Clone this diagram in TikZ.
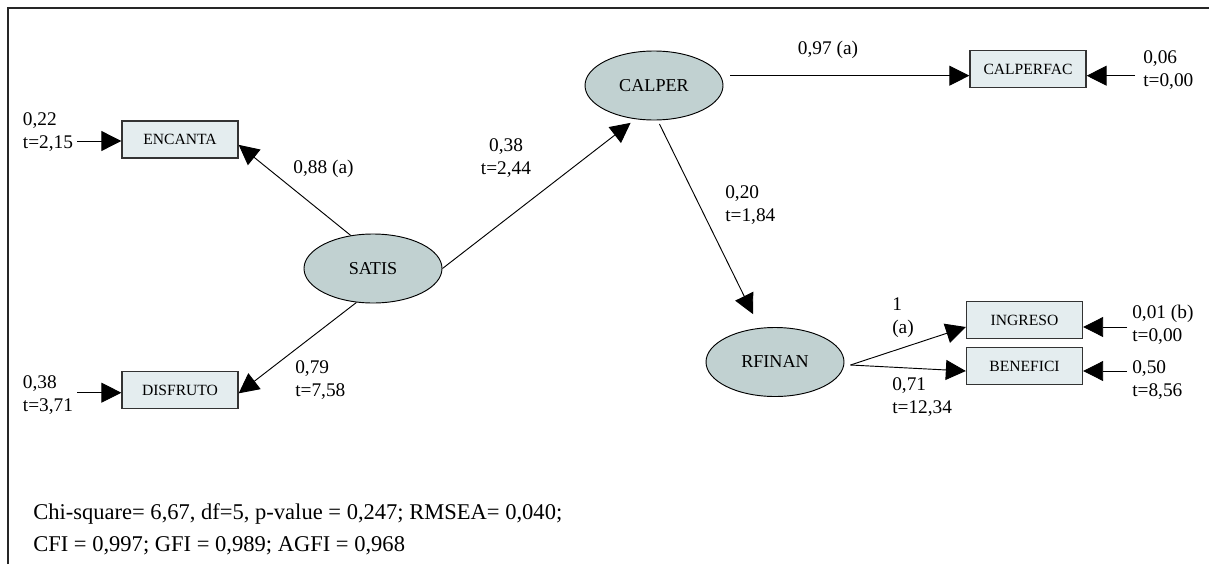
\documentclass[tikz,border=0pt]{standalone}
\usepackage{fontspec}
\setmainfont{Liberation Serif}
\usetikzlibrary{arrows.meta, shapes.geometric}
\definecolor{latfill}{RGB}{193,209,209}
\definecolor{obsfill}{RGB}{228,237,239}

\begin{document}
\begin{tikzpicture}[x=0.75pt, y=-0.75pt,
    latent/.style={ellipse, draw, line width=0.7pt, fill=latfill, minimum width=103.5pt, minimum height=51.75pt, inner sep=0pt, font=\fontsize{13.6}{16}\selectfont},
    obs/.style={rectangle, draw=black!80, line width=1pt, fill=obsfill, minimum width=87pt, minimum height=27.75pt, inner sep=0pt, font=\fontsize{11.7}{14}\selectfont},
    arr/.style={-{Triangle[length=15pt, width=15pt]}, line width=0.7pt},
    lbl/.style={inner sep=0pt, align=left, anchor=west, font=\fontsize{14.5}{17.25}\selectfont}]
    \useasboundingbox (0,0) rectangle (1209,564);
    \draw[line width=1pt, black!85] (8,564) -- (8,8) -- (1209,8);

    % latentes
    \node[latent] (satis) at (373, 268.5) {SATIS};
    \node[latent] (calper) at (654, 85.5) {CALPER};
    \node[latent] (rfinan) at (775, 362) {RFINAN};

    % indicadores
    \node[obs] (encanta) at (180, 139.5) {ENCANTA};
    \node[obs] (disfruto) at (180, 390) {DISFRUTO};
    \node[obs] (calperfac) at (1028, 69) {CALPERFAC};
    \node[obs] (ingreso) at (1024.5, 320) {INGRESO};
    \node[obs] (benefici) at (1024.5, 366) {BENEFICI};

    % cargas y efectos
    \draw[arr] (satis.124) -- ([yshift=-4pt]encanta.east);
    \draw[arr] (satis.244) -- ([yshift=-2.5pt]disfruto.east);
    \draw[arr, shorten >=4.5pt] (satis.east) -- (calper.241);
    \coordinate (cpin) at ([yshift=-5pt]calperfac.west);
    \draw[arr, shorten <=5.25pt] (cpin -| calper.east) -- (cpin);
    \draw[arr, shorten <=3pt, shorten >=11.5pt] (calper.276) -- (rfinan.114);
    \coordinate (rf) at ([xshift=4.5pt, yshift=-2.25pt]rfinan.east);
    \draw[arr] (rf) -- ([yshift=-5.25pt]ingreso.west);
    \draw[arr] (rf) -- ([yshift=-3.75pt]benefici.west);

    % errores
    \coordinate (encin) at (77, 141);
    \coordinate (disin) at (77, 392.7);
    \coordinate (cpfin) at (1135, 75.7);
    \coordinate (ingin) at (1127, 327);
    \coordinate (benin) at (1127, 371);
    \draw[arr] (encin) -- (encin -| encanta.west);
    \draw[arr] (disin) -- (disin -| disfruto.west);
    \draw[arr] (cpfin) -- (cpfin -| calperfac.east);
    \draw[arr] (ingin) -- (ingin -| ingreso.east);
    \draw[arr] (benin) -- (benin -| benefici.east);

    % etiquetas
    \node[lbl] (lenc) at (22.7, 132) {0,22\\t=2,15};
    \node[lbl] (ldis) at (22.7, 395) {0,38\\t=3,71};
    \node[lbl, anchor=center] (lsen) at (323.5, 169) {0,88 (a)};
    \node[lbl] (lsdi) at (295, 380) {0,79\\t=7,58};
    \node[lbl, align=center, anchor=center] (lsca) at (506, 158) {0,38\\t=2,44};
    \node[lbl, anchor=center] (lcpf) at (828, 50) {0,97 (a)};
    \node[lbl] (ecpf) at (1143, 70.5) {0,06\\t=0,00};
    \node[lbl] (lcrf) at (725, 205) {0,20\\t=1,84};
    \node[lbl] (ling) at (892, 318) {1\\(a)};
    \node[lbl] (lben) at (892, 397) {0,71\\t=12,34};
    \node[lbl] (eing) at (1132, 324.5) {0,01 (b)\\t=0,00};
    \node[lbl] (eben) at (1132, 380.5) {0,50\\t=8,56};

    % ajuste
    \node[lbl, font=\fontsize{16.9}{24}\selectfont] (ajuste) at (33, 529) {Chi-square= 6,67, df=5, p-value = 0,247; RMSEA= 0,040;\\CFI = 0,997; GFI = 0,989; AGFI = 0,968};
\end{tikzpicture}
\end{document}
